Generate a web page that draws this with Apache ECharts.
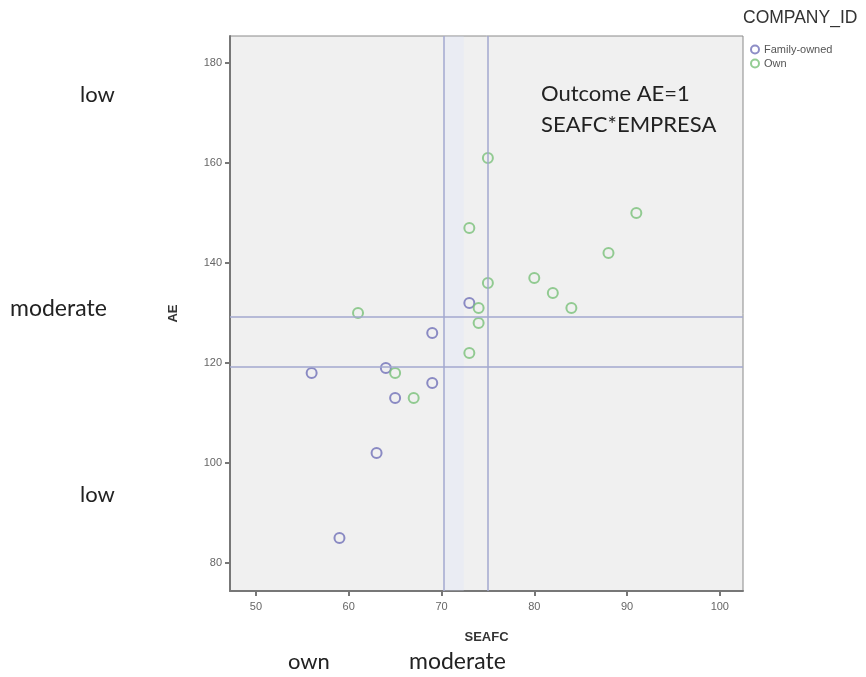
<!DOCTYPE html>
<html>
<head>
<meta charset="utf-8">
<script src="https://cdn.jsdelivr.net/npm/echarts@6/dist/echarts.min.js"></script>
<style>
  html, body { margin: 0; padding: 0; background: #fff; }
  #chart { width: 866px; height: 677px; }
</style>
</head>
<body>
<div id="chart"></div>
<script>
// data: [SEAFC, AE]
const familyOwned = [
  [73, 132], [69, 126], [69, 116], [64, 119], [56, 118],
  [65, 113], [63, 102], [59, 85]
];
const own = [
  [75, 161], [73, 147], [91, 150], [88, 142], [80, 137],
  [82, 134], [84, 131], [75, 136], [74, 131], [74, 128],
  [73, 122], [61, 130], [65, 118], [67, 113]
];
const xTicks = [50, 60, 70, 80, 90, 100];
const yTicks = [80, 100, 120, 140, 160, 180];
const vLines = [70.2, 75];
const hLines = [119.2, 129.2];

const chart = echarts.init(document.getElementById('chart'));

const lineColor = '#a3a9cf';
const labelFont = 'Lato, "Open Sans", sans-serif';
const note = (text, left, top, size) => ({
  type: 'text', left, top,
  style: { text, fontSize: size || 22, fill: '#222', fontFamily: labelFont }
});

chart.setOption({
  backgroundColor: '#fff',
  animation: false,
  grid: {
    left: 230, top: 36, width: 513, height: 555,
    show: true, backgroundColor: '#f0f0f0',
    borderColor: '#8a8a8a', borderWidth: 1
  },
  legend: {
    orient: 'vertical',
    left: 745, top: 39,
    itemWidth: 8, itemHeight: 8, itemGap: 3,
    icon: 'circle',
    textStyle: { fontSize: 11, color: '#555', fontFamily: 'Arial, sans-serif' },
    data: ['Family-owned', 'Own']
  },
  xAxis: {
    type: 'value', min: 47.2, max: 102.5,
    name: 'SEAFC', nameLocation: 'middle', nameGap: 40,
    nameTextStyle: { fontWeight: 'bold', fontSize: 13, color: '#333', fontFamily: 'Arial, sans-serif' },
    axisLine: { onZero: false, lineStyle: { color: '#777', width: 2 } },
    axisTick: { show: true, length: 5, customValues: xTicks, lineStyle: { color: '#777', width: 2 } },
    axisLabel: { customValues: xTicks, fontSize: 11, color: '#666', margin: 10 },
    splitLine: { show: false }
  },
  yAxis: {
    type: 'value', min: 74.4, max: 185.4,
    name: 'AE', nameLocation: 'middle', nameGap: 50, nameRotate: 90,
    nameTextStyle: { fontWeight: 'bold', fontSize: 13, color: '#333', fontFamily: 'Arial, sans-serif' },
    axisLine: { onZero: false, lineStyle: { color: '#777', width: 2 } },
    axisTick: { show: true, length: 5, customValues: yTicks, lineStyle: { color: '#777', width: 2 } },
    axisLabel: { customValues: yTicks, fontSize: 11, color: '#666', margin: 8 },
    splitLine: { show: false }
  },
  series: [
    {
      name: 'Family-owned',
      type: 'scatter',
      symbol: 'circle',
      symbolSize: 10,
      itemStyle: { color: 'rgba(0,0,0,0)', borderColor: '#7070b8', borderWidth: 2 },
      data: familyOwned,
      markLine: {
        silent: true, symbol: 'none', label: { show: false },
        lineStyle: { color: lineColor, width: 1.5, type: 'solid' },
        data: vLines.map(v => ({ xAxis: v })).concat(hLines.map(v => ({ yAxis: v })))
      },
      markArea: {
        silent: true,
        itemStyle: { color: 'rgba(215,222,250,0.25)' },
        data: [[{ xAxis: vLines[0] }, { xAxis: 72.4 }]]
      },
      z: 3
    },
    {
      name: 'Own',
      type: 'scatter',
      symbol: 'circle',
      symbolSize: 10,
      itemStyle: { color: 'rgba(0,0,0,0)', borderColor: '#79c079', borderWidth: 2 },
      data: own,
      z: 3
    }
  ],
  graphic: [
    { type: 'text', left: 743, top: 9, style: { text: 'COMPANY_ID', fontSize: 17.5, fill: '#333', fontFamily: 'Arial, sans-serif' } },
    note('Outcome AE=1', 541, 83),
    note('SEAFC*EMPRESA', 541, 114),
    note('low', 80, 84),
    note('moderate', 10, 297, 23),
    note('low', 80, 484),
    note('own', 288, 651),
    note('moderate', 409, 650, 23)
  ]
});
</script>
</body>
</html>
